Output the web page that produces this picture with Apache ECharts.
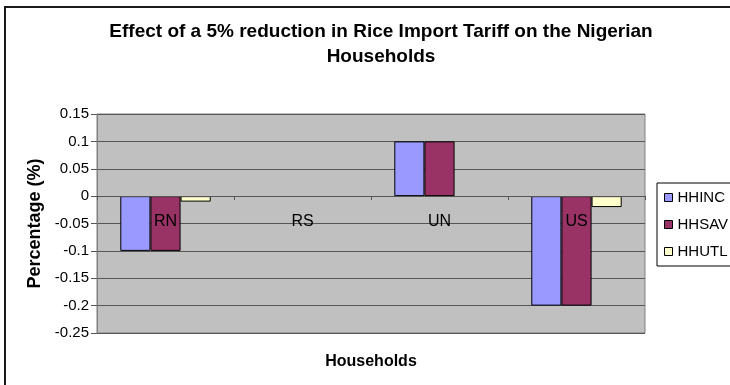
<!DOCTYPE html>
<html>
<head>
<meta charset="utf-8">
<script src="https://cdn.jsdelivr.net/npm/echarts@6/dist/echarts.min.js"></script>
<style>
  html, body { margin: 0; padding: 0; background: #fff; }
  #main { width: 730px; height: 385px; }
</style>
</head>
<body>
<div id="main"></div>
<script>
// households (categories)
var households = ['RN', 'RS', 'UN', 'US'];
// series values, percentage change
var hhinc = [-0.1, 0, 0.1, -0.2];
var hhsav = [-0.1, 0, 0.1, -0.2];
var hhutl = [-0.01, 0, 0, -0.02];
var seriesNames = ['HHINC', 'HHSAV', 'HHUTL'];
var colors = ['#9999FF', '#993366', '#FFFFCC'];

var chart = echarts.init(document.getElementById('main'));

function barSeries(name, values, color) {
  return {
    name: name,
    type: 'bar',
    // zero values are not drawn (Excel draws nothing there)
    data: values.map(function (v) { return v === 0 ? '-' : v; }),
    barGap: '0%',
    barCategoryGap: '34%',
    itemStyle: { color: color, borderColor: '#000', borderWidth: 1 }
  };
}

chart.setOption({
  animation: false,
  textStyle: { fontFamily: 'Liberation Sans, Arial, sans-serif' },
  color: colors,
  title: {
    text: 'Effect of a 5% reduction in Rice Import Tariff on the Nigerian\nHouseholds',
    left: 376,
    textAlign: 'center',
    top: 14,
    textStyle: { fontSize: 19, fontWeight: 'bold', color: '#000', lineHeight: 25 }
  },
  graphic: [{
    type: 'rect',
    shape: { x: 5, y: 7, width: 740, height: 400 },
    style: { fill: null, stroke: '#1a1a1a', lineWidth: 2 },
    silent: true
  }],
  grid: {
    left: 97, right: 85, top: 114, bottom: 52,
    outerBoundsMode: 'none',
    containLabel: false,
    show: true, backgroundColor: '#C0C0C0', borderColor: '#808080', borderWidth: 1
  },
  legend: {
    orient: 'vertical',
    left: 657, top: 183,
    padding: [7, 20, 7, 7],
    itemGap: 12,
    itemWidth: 8, itemHeight: 8,
    borderColor: '#000', borderWidth: 1,
    backgroundColor: '#fff',
    itemStyle: { borderColor: '#000', borderWidth: 1 },
    textStyle: { fontSize: 15, color: '#000' },
    icon: 'rect',
    data: seriesNames
  },
  xAxis: {
    type: 'category',
    data: households,
    z: 10,
    position: 'bottom',
    // category axis sits on the zero line (0 is 137px above the plot bottom)
    offset: -137,
    name: 'Households',
    nameLocation: 'middle',
    nameGap: 158,
    nameTextStyle: { fontSize: 16, fontWeight: 'bold', color: '#000' },
    axisLine: { onZero: false, lineStyle: { color: '#555' } },
    axisTick: { show: true, length: 4, lineStyle: { color: '#555' } },
    axisLabel: { fontSize: 16, color: '#000', margin: 18 }
  },
  yAxis: {
    type: 'value',
    min: -0.25, max: 0.15, interval: 0.05,
    name: 'Percentage (%)',
    nameLocation: 'middle',
    nameGap: 52,
    nameTextStyle: { fontSize: 18, fontWeight: 'bold', color: '#000' },
    axisLine: { show: true, lineStyle: { color: '#808080' } },
    axisTick: { show: true, length: 6, lineStyle: { color: '#555' } },
    axisLabel: {
      fontSize: 15, color: '#000', margin: 8,
      formatter: function (v) { return String(+v.toFixed(2)); }
    },
    splitLine: { show: true, lineStyle: { color: '#555', width: 1 } }
  },
  series: [
    barSeries(seriesNames[0], hhinc, colors[0]),
    barSeries(seriesNames[1], hhsav, colors[1]),
    barSeries(seriesNames[2], hhutl, colors[2])
  ]
});
</script>
</body>
</html>
